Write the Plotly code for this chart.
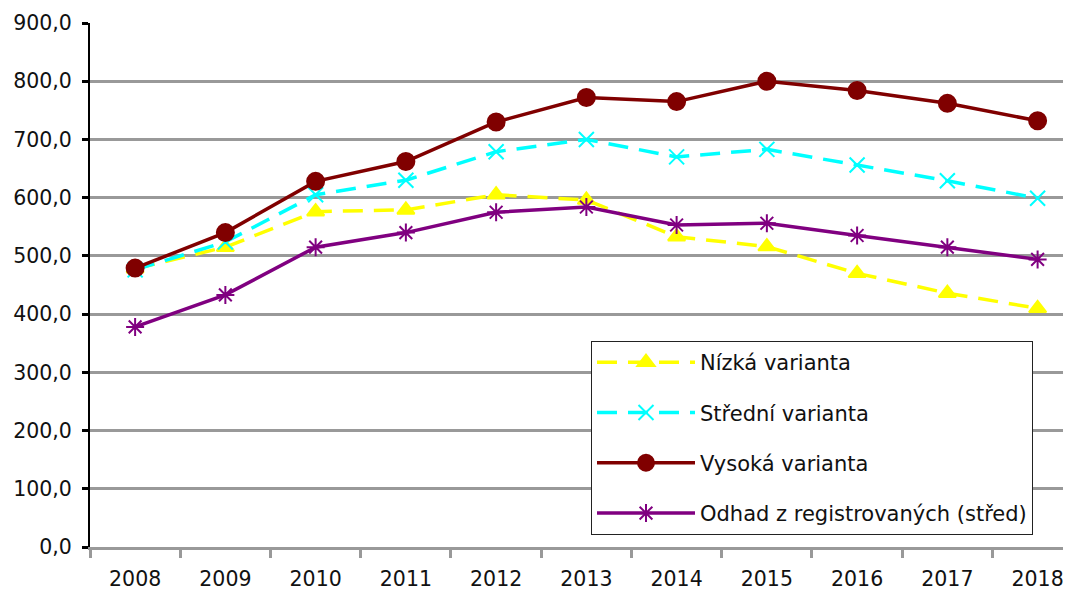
import plotly.graph_objects as go

years = ["2008", "2009", "2010", "2011", "2012", "2013", "2014", "2015", "2016", "2017", "2018"]
nizka = [478, 515, 576, 579, 605, 596, 533, 516, 470, 436, 410]
stredni = [476, 524, 605, 630, 679, 700, 670, 683, 656, 629, 599]
vysoka = [479, 540, 628, 662, 730, 772, 765, 800, 784, 762, 732]
odhad = [378, 433, 515, 540, 575, 584, 553, 556, 535, 515, 494]

names = ["Nízká varianta", "Střední varianta", "Vysoká varianta", "Odhad z registrovaných (střed)"]
series = [nizka, stredni, vysoka, odhad]
colors = ["#FFFF00", "#00FFFF", "#800000", "#800080"]
symbols = ["triangle-up", "x-thin-open", "circle", "asterisk-open"]
dashes = ["20px,11px", "20px,11px", "solid", "solid"]
msizes = [15, 15, 17, 15]

fig = go.Figure()
for i in range(4):
    fig.add_trace(go.Scatter(
        x=years, y=series[i], name=names[i], mode="lines+markers",
        legendgroup=str(i),
        line=dict(color=colors[i], width=3.5, dash=dashes[i]),
        marker=dict(symbol=symbols[i], size=msizes[i], color=colors[i],
                    line=dict(color=colors[i], width=2)),
    ))

# page body has an 8px margin, so the figure is 8px smaller than the window
fig.update_layout(
    width=1063, height=582,
    margin=dict(l=82, r=0, t=15, b=43, autoexpand=False),
    paper_bgcolor="white", plot_bgcolor="white",
    separators=", ",
    font=dict(family="DejaVu Sans", size=20.5, color="#111111"),
    showlegend=True,
    legend=dict(
        x=501 / 981, y=(539 - 333) / 524, xanchor="left", yanchor="top",
        bgcolor="white", bordercolor="#222222", borderwidth=1,
        font=dict(family="DejaVu Sans", size=21, color="#111111"),
        traceorder="grouped", tracegroupgap=20, itemwidth=98,
    ),
)
fig.update_yaxes(
    range=[0, 900], dtick=100, tickformat=".1f", automargin=False,
    showgrid=True, gridcolor="#999999", gridwidth=3,
    showline=True, linecolor="black", linewidth=2,
    ticks="outside", ticklen=6, tickwidth=3, tickcolor="black",
    zeroline=False, ticklabelstandoff=6,
)
fig.update_xaxes(
    type="category", range=[-0.5, 10.37], automargin=False,
    showgrid=False, showline=True, linecolor="#999999", linewidth=3,
    ticks="outside", tickson="boundaries", ticklen=8, tickwidth=3, tickcolor="#999999",
    ticklabelstandoff=11,
)
fig.write_html("out.html")
